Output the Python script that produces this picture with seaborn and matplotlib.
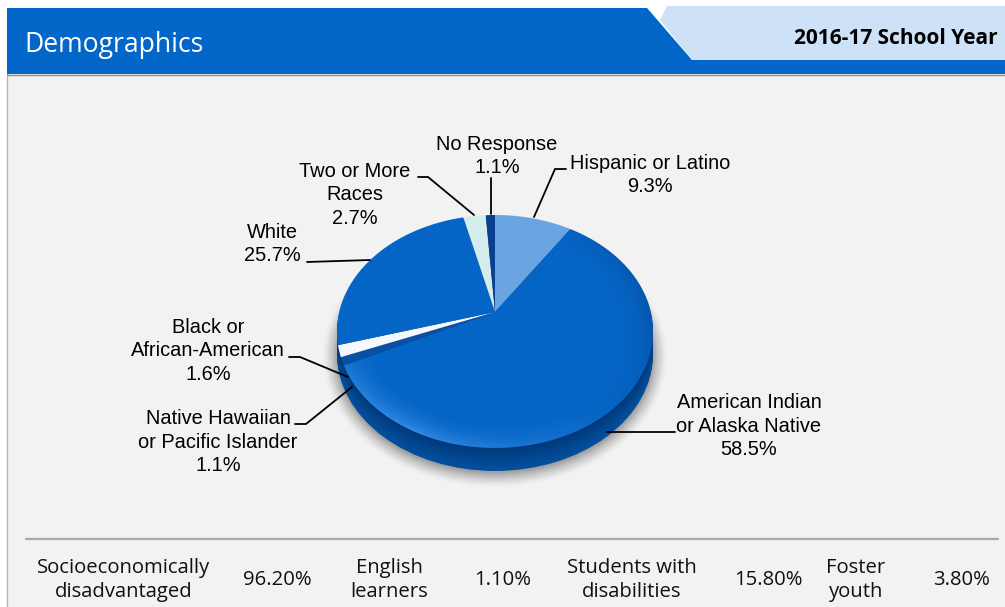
"""Demographics panel: perspective pie of enrollment by race, plus a summary row."""

from __future__ import annotations

import matplotlib

matplotlib.use("Agg")

import matplotlib.pyplot as plt
import numpy as np
import seaborn as sns
from matplotlib.patches import Ellipse, Polygon
from matplotlib.path import Path as MplPath
from matplotlib.transforms import Affine2D, Transform


GROUPS = [
    "Hispanic or Latino",
    "American Indian\nor Alaska Native",
    "Native Hawaiian\nor Pacific Islander",
    "Black or\nAfrican-American",
    "White",
    "Two or More\nRaces",
    "No Response",
]
SHARES = [9.3, 58.5, 1.1, 1.6, 25.7, 2.7, 1.1]
SLICE_COLORS = ["#6aa5e2", "#0565c6", "#0a4fa6", "#f4f8fc", "#0565c6", "#d5ecec", "#0b3f8f"]

SUMMARY_LABELS = ["Socioeconomically\ndisadvantaged", "English\nlearners", "Students with\ndisabilities", "Foster\nyouth"]
SUMMARY_VALUES = ["96.20%", "1.10%", "15.80%", "3.80%"]

# label centre, then the leader line, in picture pixels
LABEL_POS = [(650, 175), (749, 426), (218, 442), (208, 351), (272, 244), (355, 195), (497, 156)]
LEADERS = [
    [(534, 217), (555, 169), (566, 169)],
    [(607, 432), (675, 432)],
    [(352, 387), (306, 424), (295, 424)],
    [(348, 377), (300, 357), (289, 357)],
    [(370, 260), (307, 262)],
    [(474, 215), (428, 177), (418, 177)],
    [(491, 214), (491, 178)],
]
SUMMARY_LABEL_X = [124, 389, 632, 856]
SUMMARY_VALUE_X = [277, 503, 768, 961]

APEX = (495, 312)
TILT = 0.167
SCALE_X = 155.8
SCALE_Y = 113.2
RIM_DEPTH = 22


class PerspectiveDisc(Transform):
    """Map the unit disc of ax.pie to the tilted disc seen in the picture."""

    input_dims = 2
    output_dims = 2

    def transform_non_affine(self, values):
        values = np.asarray(values, dtype=float)
        w = 1 + TILT * values[:, 1]
        x = APEX[0] + SCALE_X * values[:, 0] / w
        y = APEX[1] - SCALE_Y * values[:, 1] / w
        return np.column_stack([x, y])

    def transform_path_non_affine(self, path):
        # to_polygons flattens at pixel tolerance, so scale up for smooth arcs
        polys = path.to_polygons(Affine2D().scale(2000), closed_only=True)
        return MplPath(self.transform_non_affine(polys[0] / 2000), closed=True)


def draw_panel(ax) -> None:
    """Draw the header band, the light tab and the grey body."""
    ax.add_patch(Polygon([(7, 74), (1005, 74), (1005, 607), (7, 607)], fc="#f2f2f2", ec="none", zorder=0))
    ax.plot([7, 7], [74, 607], color="#b5b5b5", lw=1, zorder=1)
    ax.add_patch(Polygon([(7, 8), (647, 8), (692, 60), (1005, 60), (1005, 74), (7, 74)], fc="#0366c9", ec="none", zorder=1))
    ax.add_patch(Polygon([(667, 6), (660, 20), (692, 60), (1005, 60), (1005, 6)], fc="#cde2f6", ec="none", zorder=1))
    ax.plot([7, 1005], [74.5, 74.5], color="#8c8c8c", lw=1, zorder=2)
    ax.text(24, 45, "Demographics", color="white", fontsize=19.1, family="Open Sans", va="center", zorder=3)
    ax.text(998, 38, "2016-17 School Year", color="black", fontsize=15, family="Open Sans", weight="bold", ha="right", va="center", zorder=3)
    ax.plot([26, 998], [539, 539], color="#a9a9a9", lw=1.6, zorder=1)


def draw_pie(ax) -> None:
    """Draw shadow, rim and the slices with their shading."""
    for grow, alpha in zip(np.linspace(14, 0, 12), np.linspace(0.012, 0.05, 12)):
        ax.add_patch(Ellipse((495, 356), 2 * (158 + grow), 2 * (117 + grow), fc="black", alpha=alpha, ec="none", zorder=2))

    wedges, _ = ax.pie(SHARES, colors=SLICE_COLORS, startangle=90, counterclock=False, radius=1.0,
                       wedgeprops={"linewidth": 0, "edgecolor": "none"})
    for wedge in wedges:
        wedge.set_transform(PerspectiveDisc() + ax.transData)
        wedge.set_zorder(5)
        wedge.set_clip_on(False)

    rim_colors = sns.blend_palette(["#013a7c", "#02478f", "#034f9e"], RIM_DEPTH)
    for step in range(RIM_DEPTH, 0, -1):
        ax.add_patch(Ellipse((495, 332 + step), 316, 234, fc=rim_colors[step - 1], ec="none", zorder=3))

    # highlight along the lower left edge, darker towards the right edge
    gy, gx = np.mgrid[0:607, 0:1005]
    dist = np.hypot((gx - 495) / 158, (gy - 332) / 117)
    edge = np.clip((dist - 0.74) / 0.26, 0, 1) ** 2
    lower_left = np.clip((gy - 332) / 117 + 0.2, 0, 1) * np.clip((620 - gx) / 200, 0, 1)
    right = np.clip((gx - 540) / 110, 0, 1) * np.clip((430 - gy) / 100, 0, 1)
    rgba = np.zeros((607, 1005, 4))
    rgba[..., :3] = (0.35, 0.65, 0.98)
    rgba[..., 3] = 0.6 * edge * lower_left
    shade = np.zeros((607, 1005, 4))
    shade[..., :3] = (0.02, 0.2, 0.45)
    shade[..., 3] = 0.3 * edge * right
    for overlay in (rgba, shade):
        image = ax.imshow(overlay, extent=(0, 1005, 607, 0), zorder=6, interpolation="bilinear", aspect="auto")
        image.set_clip_path(wedges[1].get_path(), wedges[1].get_transform())


def draw_labels(ax) -> None:
    """Write slice labels with their leader lines."""
    for group, share, pos, leader in zip(GROUPS, SHARES, LABEL_POS, LEADERS):
        ax.text(pos[0], pos[1], f"{group}\n{share}%", ha="center", va="center", fontsize=14.4,
                family="Liberation Sans", linespacing=1.3, color="black", zorder=8)
        xs, ys = zip(*leader)
        ax.plot(xs, ys, color="black", lw=1.3, zorder=7, solid_joinstyle="miter")


def draw_summary(ax) -> None:
    """Write the bottom row of indicators."""
    for label, x in zip(SUMMARY_LABELS, SUMMARY_LABEL_X):
        ax.text(x, 580, label, ha="center", va="center", fontsize=14.6, family="Open Sans", linespacing=1.22, color="#111111")
    for value, x in zip(SUMMARY_VALUES, SUMMARY_VALUE_X):
        ax.text(x, 580, value, ha="center", va="center", fontsize=14.6, family="Open Sans", color="#111111")


def main() -> None:
    sns.set_theme(style="white")
    fig = plt.figure(figsize=(10.05, 6.07), dpi=100, facecolor="white")
    ax = fig.add_axes([0, 0, 1, 1])

    draw_pie(ax)
    draw_panel(ax)
    draw_labels(ax)
    draw_summary(ax)

    ax.set_xlim(0, 1005)
    ax.set_ylim(607, 0)
    ax.set_aspect("auto")
    ax.axis("off")
    fig.savefig("out.png", dpi=100)


if __name__ == "__main__":
    main()
